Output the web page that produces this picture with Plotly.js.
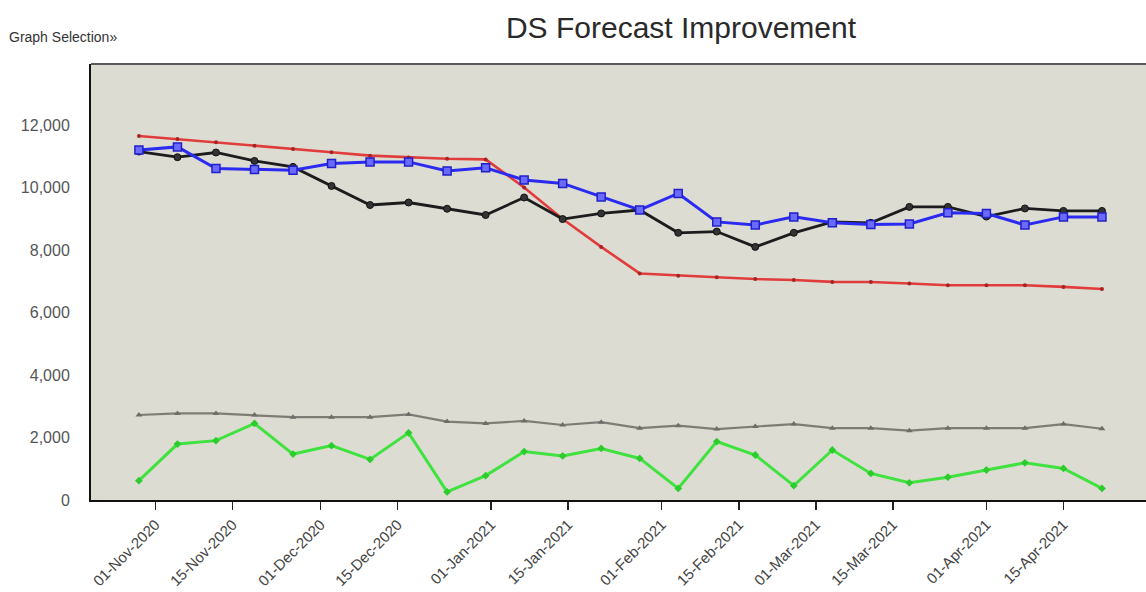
<!DOCTYPE html>
<html>
<head>
<meta charset="utf-8">
<script src="https://cdn.plot.ly/plotly-3.0.1.min.js"></script>
<style>html,body{margin:0;padding:0;background:#fff;}#chart{width:1146px;height:592px;}</style>
</head>
<body>
<div id="chart"></div>
<script>
var dates = ["2020-10-29","2020-11-05","2020-11-12","2020-11-19","2020-11-26","2020-12-03","2020-12-10","2020-12-17","2020-12-24","2020-12-31","2021-01-07","2021-01-14","2021-01-21","2021-01-28","2021-02-04","2021-02-11","2021-02-18","2021-02-25","2021-03-04","2021-03-11","2021-03-18","2021-03-25","2021-04-01","2021-04-08","2021-04-15","2021-04-22"];
var redSeries   = [11650,11550,11450,11340,11230,11130,11020,10960,10920,10900,10000,8990,8100,7250,7180,7130,7070,7040,6980,6975,6930,6870,6870,6870,6820,6750];
var blueSeries  = [11200,11300,10610,10580,10550,10770,10820,10820,10530,10630,10240,10130,9700,9280,9810,8900,8800,9060,8870,8820,8830,9190,9170,8800,9060,9060];
var blackSeries = [11150,10970,11120,10850,10660,10050,9440,9520,9320,9120,9680,8990,9170,9280,8550,8590,8100,8550,8900,8870,9380,9380,9070,9330,9250,9250];
var graySeries  = [2720,2770,2770,2720,2650,2650,2650,2740,2510,2450,2530,2400,2490,2300,2380,2270,2350,2430,2300,2300,2220,2300,2300,2300,2430,2280];
var greenSeries = [620,1790,1900,2450,1470,1740,1300,2150,260,780,1550,1410,1650,1330,370,1870,1440,460,1600,850,550,730,960,1190,1010,370];
var tickDates = ["2020-11-01","2020-11-15","2020-12-01","2020-12-15","2021-01-01","2021-01-15","2021-02-01","2021-02-15","2021-03-01","2021-03-15","2021-04-01","2021-04-15"];

var traces = [
  {x: dates, y: graySeries, mode: "lines+markers", line: {color: "#7d7d76", width: 2.2},
   marker: {symbol: "triangle-up", size: 6, color: "#6e6e68"}},
  {x: dates, y: greenSeries, mode: "lines+markers", line: {color: "#3fe23f", width: 3},
   marker: {symbol: "diamond", size: 6, color: "#2ccc2c"}},
  {x: dates, y: redSeries, mode: "lines+markers", line: {color: "#e03c3c", width: 2.6},
   marker: {symbol: "circle", size: 4, color: "#a82424"}},
  {x: dates, y: blackSeries, mode: "lines+markers", line: {color: "#1c1c1c", width: 2.8},
   marker: {symbol: "circle", size: 7, color: "#333333", line: {color: "#111", width: 1}}},
  {x: dates, y: blueSeries, mode: "lines+markers", line: {color: "#2a2af0", width: 3},
   marker: {symbol: "square", size: 8, color: "#6a6aff", line: {color: "#2020c8", width: 1.5}}}
];

var layout = {
  width: 1146, height: 592,
  margin: {l: 91, r: 0, t: 64, b: 92},
  paper_bgcolor: "#ffffff",
  plot_bgcolor: "#dddcd3",
  showlegend: false,
  title: {text: "DS Forecast Improvement", x: 681/1146, xref: "container", xanchor: "center",
          y: 1 - 27/592, yref: "container", yanchor: "middle",
          font: {family: "Liberation Sans, Arial, sans-serif", size: 30, color: "#2a2a2a"}},
  xaxis: {
    type: "date",
    range: ["2020-10-20 07:00", "2021-04-30"],
    tickvals: tickDates,
    tickformat: "%d-%b-%Y",
    tickangle: -45,
    ticks: "outside", ticklen: 8, tickwidth: 1.5, tickcolor: "#222",
    showline: true, linecolor: "#111", linewidth: 2,
    showgrid: false, zeroline: false,
    tickfont: {family: "Liberation Sans, Arial, sans-serif", size: 15, color: "#444"}
  },
  yaxis: {
    range: [0, 13952],
    dtick: 2000, tick0: 0,
    tickformat: ",d",
    showline: true, linecolor: "#111", linewidth: 2,
    showgrid: false, zeroline: false,
    ticks: "", ticklabelstandoff: 16,
    tickfont: {family: "Liberation Sans, Arial, sans-serif", size: 16, color: "#555"}
  },
  shapes: [
    {type: "line", xref: "paper", yref: "paper", x0: 0, x1: 1, y0: 1, y1: 1,
     line: {color: "#5a5a5a", width: 2}}
  ],
  annotations: [
    {text: "Graph Selection»", xref: "paper", yref: "paper", x: -84/1055, y: 1 + (64-37)/436,
     xanchor: "left", yanchor: "middle", showarrow: false,
     font: {family: "Liberation Sans, Arial, sans-serif", size: 14, color: "#333"}}
  ]
};

Plotly.newPlot("chart", traces, layout, {displayModeBar: false, staticPlot: true});
</script>
</body>
</html>
